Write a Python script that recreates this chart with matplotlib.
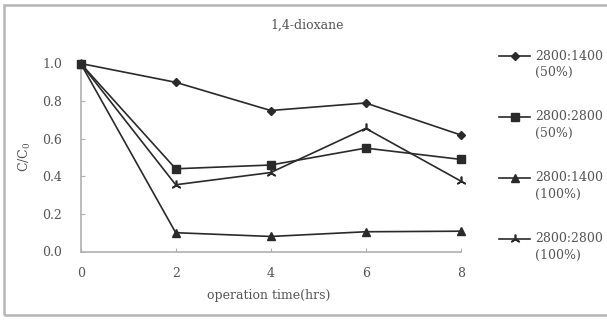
import matplotlib
matplotlib.use("Agg")
import matplotlib.pyplot as plt
from matplotlib.lines import Line2D
from matplotlib.patches import Rectangle

plt.rcParams['font.family'] = ['DejaVu Serif']
plt.rcParams['mathtext.fontset'] = 'dejavuserif'

# data
time_hrs = [0, 2, 4, 6, 8]
r1400_50 = [1.0, 0.90, 0.75, 0.79, 0.62]
r2800_50 = [1.0, 0.44, 0.46, 0.55, 0.49]
r1400_100 = [1.0, 0.10, 0.08, 0.105, 0.108]
r2800_100 = [1.0, 0.355, 0.42, 0.655, 0.375]
labels = ["2800:1400", "2800:2800", "2800:1400", "2800:2800"]
sublabels = ["(50%)", "(50%)", "(100%)", "(100%)"]
yticks = [0.0, 0.2, 0.4, 0.6, 0.8, 1.0]
xticks = [0, 2, 4, 6, 8]

W, H = 607, 321
fig = plt.figure(figsize=(W / 100, H / 100), dpi=100)
ax = fig.add_axes([80.7 / W, 1 - 251.5 / H, 380 / W, 188 / H])

lc = '#2a2a2a'
series = [
    (r1400_50, dict(marker='D', ms=4.5), 2),
    (r1400_100, dict(marker='^', ms=6), 2),
    (r2800_100, dict(marker=(3, 2, 0), ms=7, mew=1.2), 2),
    (r2800_50, dict(marker='s', ms=6), 3),
]
for vals, mk, z in series:
    ax.plot(time_hrs, vals, color=lc, lw=1.2, mfc=lc, mec=lc,
            clip_on=False, zorder=z, **mk)

ax.set_xlim(0, 8)
ax.set_ylim(0, 1.0)
ax.set_xticks(xticks)
ax.set_yticks(yticks)
ax.set_yticklabels([f"{v:.1f}" for v in yticks])
for s in ['top', 'right']:
    ax.spines[s].set_visible(False)
for s in ['left', 'bottom']:
    ax.spines[s].set_color('#b0b0b0')
    ax.spines[s].set_linewidth(1.2)
ax.tick_params(axis='y', direction='in', length=3, color='#b0b0b0',
               labelsize=9, labelcolor='#555555', pad=13.5)
ax.tick_params(axis='x', direction='in', length=3, color='#b0b0b0',
               labelsize=9, labelcolor='#555555', pad=11)

fig.text(307 / W, 1 - 25 / H, "1,4-dioxane", ha='center', va='center',
         fontsize=9, color='#555555')
fig.text(269 / W, 1 - 295 / H, "operation time(hrs)", ha='center',
         va='center', fontsize=9, color='#555555')
fig.text(25 / W, 1 - 157 / H, r"C/C$_0$", ha='center', va='center',
         rotation=90, fontsize=9, color='#555555')

# legend drawn by hand
leg_markers = [dict(marker='D', ms=4.5), dict(marker='s', ms=6),
               dict(marker='^', ms=6), dict(marker=(3, 2, 0), ms=7, mew=1.2)]
leg_y = [56, 117, 178, 239]
for y, mk, lab, sub in zip(leg_y, leg_markers, labels, sublabels):
    fy = 1 - y / H
    fig.add_artist(Line2D([499 / W, 530 / W], [fy, fy], color=lc, lw=1.2))
    fig.add_artist(Line2D([514.5 / W], [fy], color=lc, mfc=lc, mec=lc, **mk))
    fig.text(535 / W, fy, lab, ha='left', va='center', fontsize=9,
             color='#555555')
    fig.text(535 / W, 1 - (y + 16) / H, sub, ha='left', va='center',
             fontsize=9, color='#555555')

# outer frame
fig.add_artist(Rectangle((4 / W, 1 - 315 / H), 620 / W, 310 / H,
                         transform=fig.transFigure, fill=False,
                         edgecolor='#b5b5b5', lw=1.8))

fig.savefig("out.png", dpi=100)
